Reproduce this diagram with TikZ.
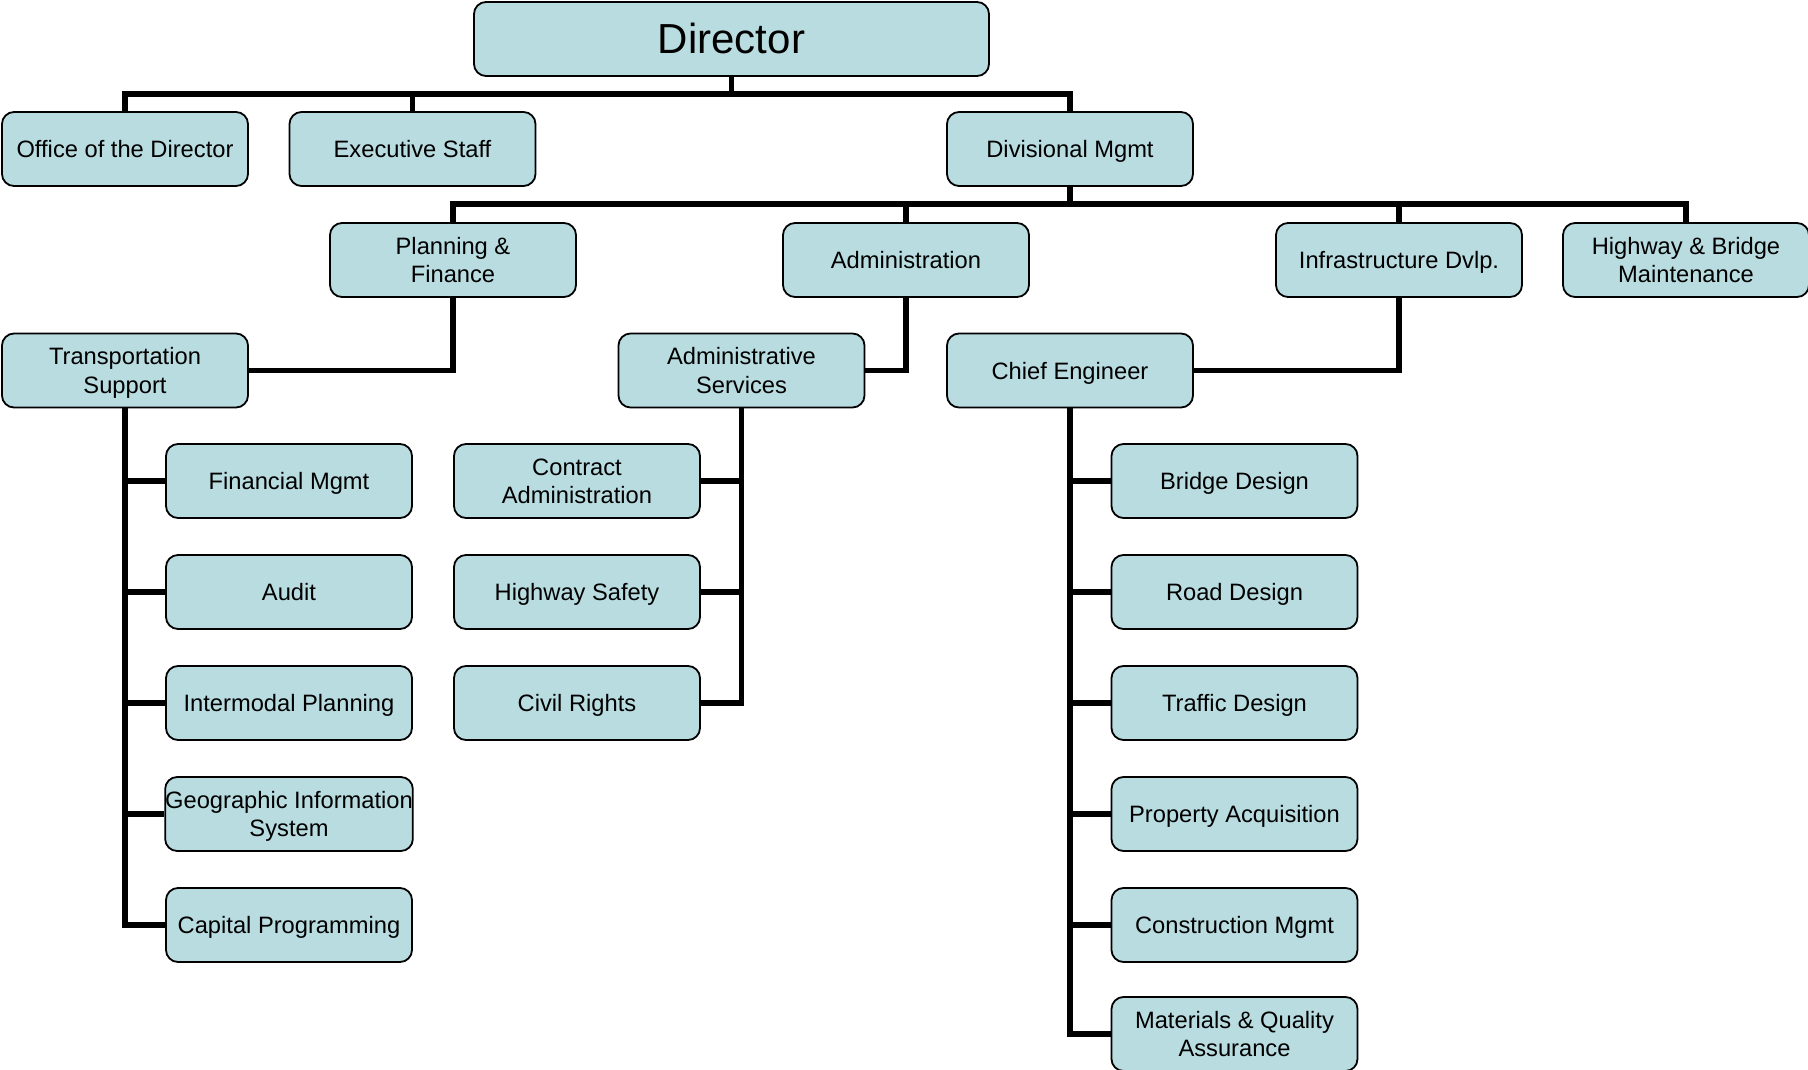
\documentclass[tikz,border=0pt]{standalone}
\usepackage{fontspec}
\setmainfont{Liberation Sans}
\usetikzlibrary{backgrounds}
\definecolor{boxfill}{RGB}{184,220,224}
\begin{document}
\begin{tikzpicture}[x=1pt,y=-1pt,
  unit/.style={draw=black, line width=1.8pt, fill=boxfill, rounded corners=12pt,
    minimum width=246pt, minimum height=74pt, inner sep=0pt, align=center,
    text height=17pt, text depth=0pt,
    font=\fontsize{23.7}{28.5}\selectfont},
  twoline/.style={unit, text height=45.5pt, text depth=0pt},
  topunit/.style={unit, minimum width=515pt, minimum height=74pt,
    text height=30pt, text depth=0pt,
    font=\fontsize{42}{50}\selectfont},
  link/.style={draw=black, line width=5.5pt}]
\useasboundingbox (0,0) rectangle (1808,1070);
% nodes
\node[topunit] (dir) at (731.5,39) {Director};
\node[unit] (office) at (125,149) {Office of the Director};
\node[unit] (exec) at (412.5,149) {Executive Staff};
\node[unit] (div) at (1070,149) {Divisional Mgmt};
\node[twoline] (plan) at (453,260) {Planning \&\\Finance};
\node[unit] (admin) at (906,260) {Administration};
\node[unit] (infra) at (1399,260) {Infrastructure Dvlp.};
\node[twoline] (hwy) at (1686,260) {Highway \& Bridge\\Maintenance};
\node[twoline] (trans) at (125,370.5) {Transportation\\Support};
\node[twoline] (adsv) at (741.5,370.5) {Administrative\\Services};
\node[unit] (chief) at (1070,370.5) {Chief Engineer};
\node[unit] (fin) at (289,481) {Financial Mgmt};
\node[unit] (audit) at (289,592) {Audit};
\node[unit] (inter) at (289,703) {Intermodal Planning};
\node[twoline] (geo) at (289,814) {Geographic Information\\System};
\node[unit] (capp) at (289,925) {Capital Programming};
\node[twoline] (contract) at (577,481) {Contract\\Administration};
\node[unit] (safety) at (577,592) {Highway Safety};
\node[unit] (civil) at (577,703) {Civil Rights};
\node[unit] (bridge) at (1234.5,481) {Bridge Design};
\node[unit] (road) at (1234.5,592) {Road Design};
\node[unit] (traffic) at (1234.5,703) {Traffic Design};
\node[unit] (prop) at (1234.5,814) {Property Acquisition};
\node[unit] (constr) at (1234.5,925) {Construction Mgmt};
\node[twoline] (mat) at (1234.5,1034) {Materials \& Quality\\Assurance};
\coordinate (b1) at (731.5,94);
\coordinate (b2) at (1070,204);
% connectors
\begin{scope}[on background layer]
\draw[link] (dir.south) -- (b1);
\draw[link] (office.north) |- (b1) -| (div.north);
\draw[link] (exec.north) |- (b1);
\draw[link] (div.south) -- (b2);
\draw[link] (plan.north) |- (b2) -| (hwy.north);
\draw[link] (admin.north) |- (b2);
\draw[link] (infra.north) |- (b2);
\draw[link] (plan.south) |- (trans.east);
\draw[link] (admin.south) |- (adsv.east);
\draw[link] (infra.south) |- (chief.east);
\foreach \n in {fin,audit,inter,geo,capp} \draw[link] (trans.south) |- (\n.west);
\foreach \n in {contract,safety,civil} \draw[link] (adsv.south) |- (\n.east);
\foreach \n in {bridge,road,traffic,prop,constr,mat} \draw[link] (chief.south) |- (\n.west);
\end{scope}
\end{tikzpicture}
\end{document}
